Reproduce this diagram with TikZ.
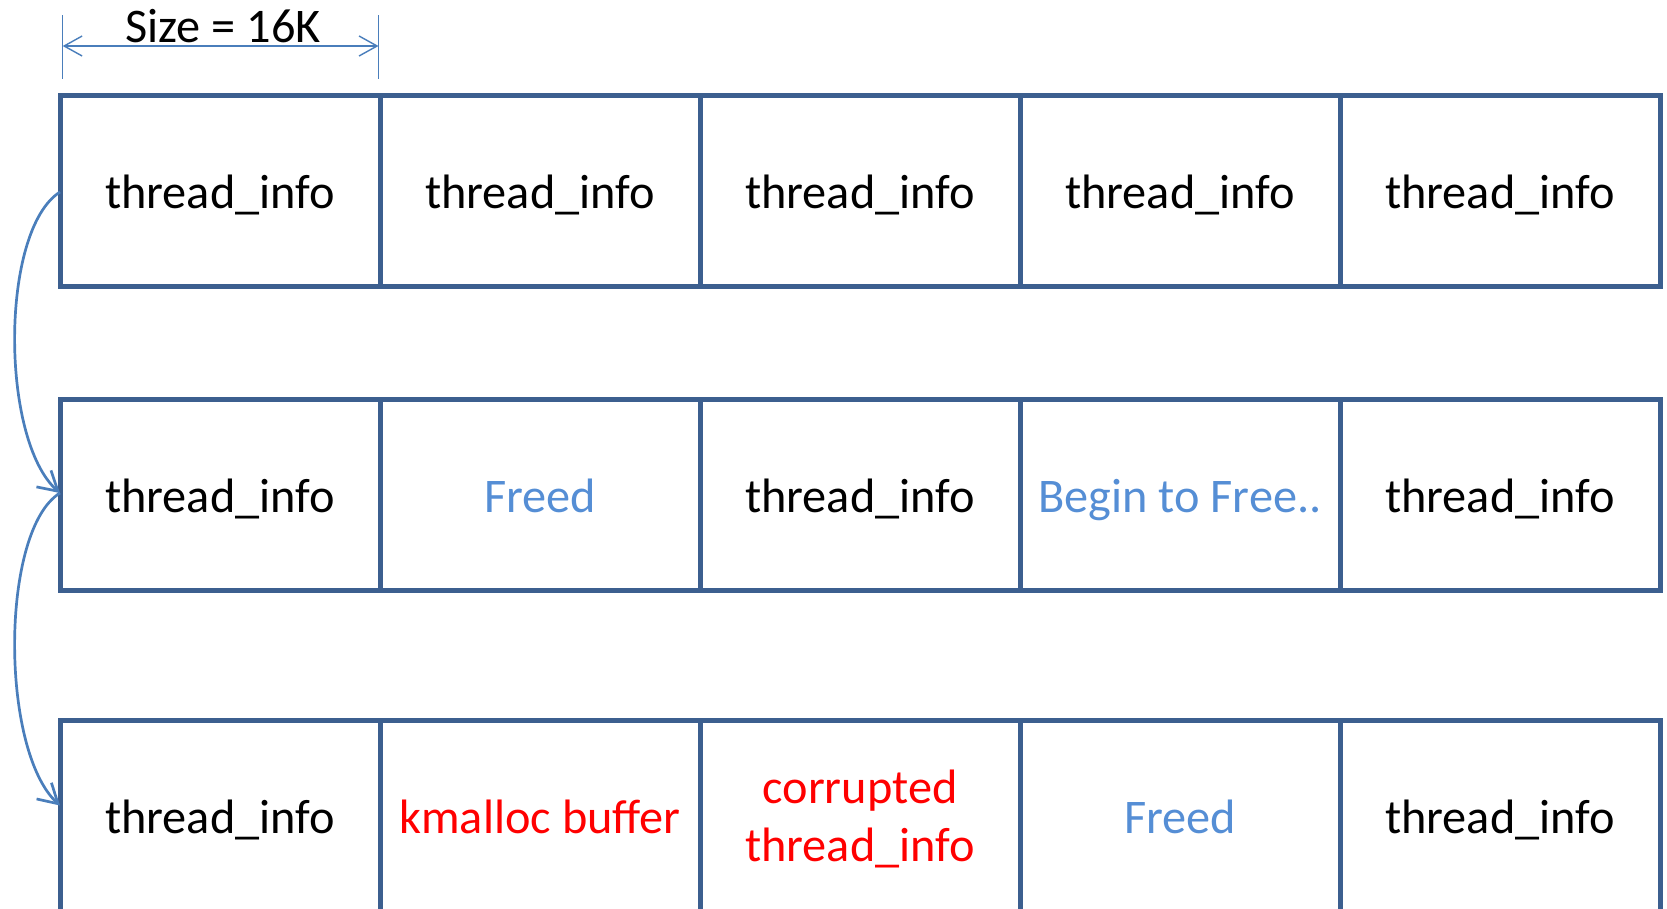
\documentclass[tikz,border=0pt]{standalone}
\usepackage{fontspec}
\setmainfont{Carlito}
\usetikzlibrary{arrows.meta,calc}
\definecolor{cellline}{HTML}{3C5F8F}
\definecolor{linkblue}{HTML}{4A7EBB}
\definecolor{freeblue}{HTML}{558ED5}
\definecolor{badred}{HTML}{FF0000}
\begin{document}
\begin{tikzpicture}[x=1pt,y=-1pt,
  cellbox/.style={draw=cellline,line width=5pt,minimum width=320pt,minimum height=191pt,
    inner sep=0pt,outer sep=0pt,font=\fontsize{48.3}{57.4}\selectfont,align=center},
  cell/.style={cellbox,text height=40pt,text depth=4.4pt},
  freed/.style={text=freeblue},
  bad/.style={text=badred},
  link/.style={draw=linkblue,line width=2.7pt,-{Straight Barb[length=19pt,width=22pt,line width=2.7pt]}},
  dimline/.style={draw=linkblue,line width=1.4pt},
  lbl/.style={font=\fontsize{48.3}{57.4}\selectfont,inner sep=0pt}]
\useasboundingbox (0,0) rectangle (1667,908);
\clip (0,0) rectangle (1667,908);

% first row of thread_info slots
\node[cell] (c11) at (220,191) {thread\_info};
\node[cell] (c12) at (540,191) {thread\_info};
\node[cell] (c13) at (860,191) {thread\_info};
\node[cell] (c14) at (1180,191) {thread\_info};
\node[cell] (c15) at (1500,191) {thread\_info};

% second row
\node[cell] (c21) at (220,495) {thread\_info};
\node[cell,freed] (c22) at (540,495) {Freed};
\node[cell] (c23) at (860,495) {thread\_info};
\node[cell,freed] (c24) at (1180,495) {Begin to Free..};
\node[cell] (c25) at (1500,495) {thread\_info};

% third row
\node[cell] (c31) at (220,815.5) {thread\_info};
\node[cell,bad] (c32) at (540,815.5) {kmalloc buffer};
\node[cellbox,bad] (c33) at (860,815.5) {};
\node[bad,align=center,inner sep=0pt,font=\fontsize{48.3}{57.4}\selectfont] (c33t) at ($(c33.center)+(0,3.5)$) {corrupted\\thread\_info};
\node[cell,freed] (c34) at (1180,815.5) {Freed};
\node[cell] (c35) at (1500,815.5) {thread\_info};

% size dimension above the first slot
\coordinate (dl) at (62.7,46);
\coordinate (dr) at (378.5,46);
\draw[dimline] ($(dl)+(0,-31)$) -- ($(dl)+(0,33)$);
\draw[dimline] ($(dr)+(0,-31)$) -- ($(dr)+(0,33)$);
\draw[dimline,{Straight Barb[length=18pt,width=20pt,line width=1.4pt]}-{Straight Barb[length=18pt,width=20pt,line width=1.4pt]}] (dl) -- (dr);
\node[lbl] (size) at (223,26) {Size = 16K};

% transitions between rows
\coordinate (a0) at ($(c11.west)+(0,1)$);
\coordinate (a1) at ($(c21.west)+(0,-2)$);
\coordinate (a2) at ($(c31.west)+(0,-10)$);
\draw[link] (a0) .. controls +(-60,38) and +(-60,-53) .. (a1);
\draw[link] (a1) .. controls +(-60,37) and +(-60,-55) .. (a2);
\end{tikzpicture}
\end{document}
